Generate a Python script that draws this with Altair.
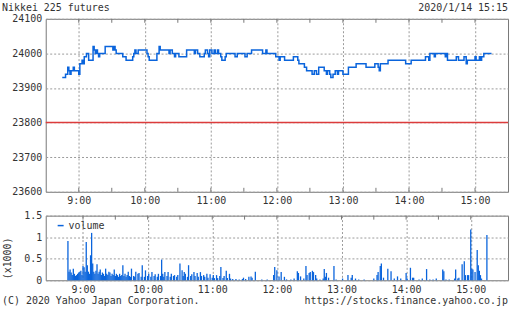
import altair as alt
import pandas as pd

# ---------------- data ----------------
title_left = "Nikkei 225 futures"
title_right = "2020/1/14 15:15"
footer_left = "(C) 2020 Yahoo Japan Corporation."
footer_right = "https://stocks.finance.yahoo.co.jp"
volume_label = "volume"
volume_unit = "(x1000)"

hour_labels = ["9:00", "10:00", "11:00", "12:00", "13:00", "14:00", "15:00"]
half_hour_ticks = ["9:00", "9:30", "10:00", "10:30", "11:00", "11:30", "12:00", "12:30",
                   "13:00", "13:30", "14:00", "14:30", "15:00"]
price_ticks = [23600, 23700, 23800, 23900, 24000, 24100]
volume_ticks = [0, 0.5, 1, 1.5]
base_price = [23800]

price_times = [
    "08:45", "08:48", "08:50", "08:51", "08:52", "08:53", "08:55", "08:56", "09:00", "09:01",
    "09:03", "09:04", "09:05", "09:07", "09:09", "09:13", "09:14", "09:15", "09:16", "09:17",
    "09:18", "09:19", "09:24", "09:31", "09:32", "09:33", "09:34", "09:40", "09:43", "09:49",
    "09:50", "09:51", "09:52", "09:54", "10:02", "10:03", "10:04", "10:11", "10:13", "10:14",
    "10:22", "10:23", "10:25", "10:27", "10:28", "10:31", "10:38", "10:45", "10:46", "10:48",
    "10:50", "10:54", "10:55", "10:57", "10:58", "10:59", "11:01", "11:03", "11:04", "11:06",
    "11:07", "11:09", "11:10", "11:13", "11:14", "11:22", "11:24", "11:31", "11:33", "11:37",
    "11:47", "11:50", "11:51", "11:59", "12:02", "12:03", "12:07", "12:15", "12:19", "12:20",
    "12:25", "12:27", "12:32", "12:34", "12:36", "12:38", "12:43", "12:45", "12:46", "12:48",
    "12:49", "12:51", "12:53", "12:55", "12:56", "13:00", "13:05", "13:12", "13:21", "13:29",
    "13:32", "13:33", "13:34", "13:41", "13:57", "14:02", "14:15", "14:18", "14:19", "14:23",
    "14:24", "14:33", "14:34", "14:35", "14:43", "14:45", "14:50", "14:52", "14:53", "15:00",
    "15:01", "15:04", "15:05", "15:06", "15:08", "15:15",
]
price_values = [
    23930, 23940, 23960, 23950, 23940, 23950, 23960, 23950, 23940, 23970,
    23980, 23970, 23990, 24000, 23980, 24020, 24010, 24000, 24010, 24000,
    23990, 24000, 24020, 24010, 24020, 24010, 24000, 23990, 23980, 23990,
    24000, 24010, 24000, 24010, 24000, 23990, 23980, 24000, 24020, 24010,
    24000, 24010, 24000, 23990, 24000, 23990, 24010, 24000, 24010, 24000,
    23990, 24000, 24010, 24000, 23990, 24010, 24000, 24010, 24000, 24010,
    24000, 23990, 23980, 23990, 24000, 23990, 24000, 23990, 24000, 24010,
    24000, 24010, 24000, 23990, 23980, 23990, 23980, 23990, 23980, 23970,
    23960, 23950, 23940, 23950, 23940, 23960, 23950, 23940, 23950, 23940,
    23930, 23940, 23950, 23940, 23950, 23940, 23960, 23970, 23960, 23970,
    23960, 23950, 23970, 23980, 23970, 23980, 23990, 23980, 24000, 23990,
    24000, 23990, 24000, 23980, 23990, 23980, 23990, 23970, 23980, 23990,
    23980, 23990, 23980, 23990, 24000, 24000,
]

volume_times = [
    "08:46", "08:47", "08:48", "08:49", "08:50", "08:51", "08:52", "08:53", "08:54", "08:55",
    "08:56", "08:57", "08:58", "08:59", "09:00", "09:01", "09:02", "09:03", "09:04", "09:05",
    "09:06", "09:07", "09:08", "09:09", "09:10", "09:11", "09:12", "09:13", "09:14", "09:15",
    "09:16", "09:17", "09:18", "09:19", "09:20", "09:21", "09:22", "09:23", "09:24", "09:25",
    "09:26", "09:27", "09:28", "09:29", "09:30", "09:31", "09:32", "09:33", "09:34", "09:35",
    "09:36", "09:37", "09:38", "09:39", "09:40", "09:41", "09:42", "09:43", "09:44", "09:45",
    "09:47", "09:48", "09:49", "09:51", "09:52", "09:54", "09:55", "09:57", "09:58", "10:00",
    "10:01", "10:03", "10:04", "10:06", "10:07", "10:09", "10:10", "10:12", "10:13", "10:14",
    "10:15", "10:16", "10:18", "10:19", "10:21", "10:22", "10:24", "10:25", "10:27", "10:28",
    "10:30", "10:32", "10:33", "10:34", "10:35", "10:37", "10:38", "10:40", "10:41", "10:43",
    "10:44", "10:46", "10:47", "10:49", "10:50", "10:52", "10:53", "10:55", "10:56", "10:58",
    "11:00", "11:01", "11:02", "11:04", "11:05", "11:07", "11:08", "11:10", "11:11", "11:13",
    "11:14", "11:16", "11:17", "11:19", "11:22", "11:25", "11:28", "11:29", "11:31", "11:34",
    "11:36", "11:37", "11:40", "11:46", "11:51", "11:57", "11:58", "12:00", "12:02", "12:04",
    "12:07", "12:09", "12:13", "12:16", "12:19", "12:20", "12:22", "12:25", "12:27", "12:28",
    "12:30", "12:31", "12:33", "12:34", "12:36", "12:37", "12:40", "12:43", "12:44", "12:45",
    "12:46", "12:48", "12:53", "12:55", "13:01", "13:06", "13:09", "13:10", "13:13", "13:16",
    "13:21", "13:30", "13:33", "13:34", "13:36", "13:37", "13:39", "13:43", "13:46", "13:49",
    "13:52", "13:55", "14:00", "14:01", "14:04", "14:06", "14:07", "14:12", "14:15", "14:19",
    "14:22", "14:25", "14:28", "14:34", "14:35", "14:37", "14:40", "14:45", "14:46", "14:48",
    "14:49", "14:52", "14:54", "14:55", "14:57", "14:58", "15:00", "15:01", "15:02", "15:04",
    "15:06", "15:07", "15:08", "15:09", "15:10", "15:15",
]
volume_values = [
    0.91, 0.20, 0.25, 0.18, 0.12, 0.27, 0.15, 0.10, 0.12, 0.15,
    0.18, 0.20, 0.22, 0.12, 0.33, 0.30, 0.20, 0.89, 0.35, 0.20,
    0.15, 0.58, 1.10, 0.39, 0.20, 0.15, 0.22, 0.37, 0.15, 0.20,
    0.25, 0.12, 0.18, 0.15, 0.10, 0.27, 0.15, 0.12, 0.20, 0.18,
    0.10, 0.15, 0.12, 0.25, 0.10, 0.15, 0.12, 0.08, 0.15, 0.10,
    0.12, 0.35, 0.10, 0.15, 0.08, 0.12, 0.20, 0.10, 0.08, 0.27,
    0.10, 0.08, 0.20, 0.15, 0.17, 0.08, 0.35, 0.08, 0.23, 0.10,
    0.15, 0.08, 0.19, 0.10, 0.14, 0.08, 0.15, 0.10, 0.48, 0.15,
    0.08, 0.19, 0.10, 0.19, 0.08, 0.15, 0.10, 0.12, 0.08, 0.12,
    0.39, 0.23, 0.10, 0.19, 0.15, 0.08, 0.35, 0.10, 0.14, 0.19,
    0.10, 0.17, 0.08, 0.19, 0.10, 0.12, 0.08, 0.15, 0.06, 0.14,
    0.06, 0.12, 0.05, 0.12, 0.05, 0.10, 0.31, 0.05, 0.10, 0.22,
    0.05, 0.15, 0.04, 0.03, 0.03, 0.02, 0.03, 0.06, 0.03, 0.08,
    0.09, 0.06, 0.20, 0.02, 0.02, 0.12, 0.31, 0.23, 0.09, 0.19,
    0.08, 0.02, 0.02, 0.04, 0.21, 0.17, 0.09, 0.04, 0.33, 0.12,
    0.17, 0.19, 0.22, 0.19, 0.12, 0.04, 0.02, 0.04, 0.26, 0.08,
    0.17, 0.06, 0.33, 0.02, 0.04, 0.12, 0.06, 0.12, 0.04, 0.02,
    0.02, 0.04, 0.12, 0.19, 0.33, 0.39, 0.06, 0.27, 0.21, 0.04,
    0.09, 0.04, 0.17, 0.04, 0.29, 0.06, 0.06, 0.02, 0.04, 0.26,
    0.02, 0.02, 0.04, 0.25, 0.21, 0.02, 0.02, 0.04, 0.25, 0.04,
    0.06, 0.37, 0.44, 0.12, 0.12, 0.12, 1.18, 0.27, 0.25, 0.19,
    0.70, 0.35, 0.22, 0.12, 0.04, 1.05,
]

# ---------------- helpers ----------------
def to_min(s):
    h, m = s.split(":")
    return int(h) * 60 + int(m)

price_df = pd.DataFrame({"m": [to_min(t) for t in price_times], "p": price_values})
vol_df = pd.DataFrame({"m": [to_min(t) for t in volume_times], "v": volume_values})
tick_df = pd.DataFrame({"m": [to_min(t) for t in half_hour_ticks]})
base_df = pd.DataFrame({"p": base_price})
hour_values = [to_min(t) for t in hour_labels]

FONT = "DejaVu Sans Mono"
BLUE = "#0a64dc"
RED = "#dc3c3c"
GRID = "#9a9a9a"
FRAME = "#777777"
TXT = "#333333"
W = 465
H1 = 174
H2 = 65

xs = alt.Scale(domain=[510, 930], nice=False, zero=False)
xa = alt.Axis(values=hour_values, labelExpr="floor(datum.value/60) + ':00'", grid=True,
              gridColor=GRID, gridDash=[2, 2], ticks=False, domain=False, title=None,
              labelPadding=4, labelFont=FONT, labelFontSize=10, labelColor=TXT, labelFlush=False)

ys = alt.Scale(domain=[23600, 24100], nice=False, zero=False)
ya = alt.Axis(values=price_ticks, grid=True, gridColor=GRID, gridDash=[2, 2], ticks=False,
              domain=False, title=None, labelPadding=4, labelFont=FONT, labelFontSize=10,
              labelColor=TXT, format="d")

vs = alt.Scale(domain=[0, 1.5], nice=False)
va = alt.Axis(values=volume_ticks, grid=True, gridColor=GRID, gridDash=[2, 2], ticks=False,
              domain=False, title=None, labelPadding=4, labelFont=FONT, labelFontSize=10,
              labelColor=TXT, format="~g")


def text_layer(label, x, y, align="left", angle=0):
    return alt.Chart(alt.Data(values=[{"t": label}])).mark_text(
        align=align, baseline="middle", font=FONT, fontSize=10, color=TXT, angle=angle
    ).encode(x=alt.value(x), y=alt.value(y), text="t:N")


# ---------------- top panel ----------------
line = alt.Chart(price_df).mark_line(interpolate="step-after", color=BLUE, strokeWidth=1.5).encode(
    x=alt.X("m:Q", scale=xs, axis=xa), y=alt.Y("p:Q", scale=ys, axis=ya)
)
red = alt.Chart(base_df).mark_rule(color=RED, strokeWidth=1.5).encode(
    y=alt.Y("p:Q", scale=ys, axis=ya)
)
ticks_t = alt.Chart(tick_df).mark_rule(color=FRAME).encode(
    x=alt.X("m:Q", scale=xs, axis=xa), y=alt.value(0), y2=alt.value(4)
)
ticks_b = alt.Chart(tick_df).mark_rule(color=FRAME).encode(
    x=alt.X("m:Q", scale=xs, axis=xa), y=alt.value(H1 - 4), y2=alt.value(H1)
)
top = alt.layer(
    red, line, ticks_t, ticks_b,
    text_layer(title_left, -44, -11),
    text_layer(title_right, W, -11, align="right"),
).properties(width=W, height=H1)

# ---------------- bottom panel ----------------
bars = alt.Chart(vol_df).mark_bar(width=1.3, color=BLUE).encode(
    x=alt.X("m:Q", scale=xs, axis=xa), y=alt.Y("v:Q", scale=vs, axis=va)
)
ticks_t2 = alt.Chart(tick_df).mark_rule(color=FRAME).encode(
    x=alt.X("m:Q", scale=xs, axis=xa), y=alt.value(0), y2=alt.value(4)
)
legend_line = alt.Chart(alt.Data(values=[{"t": volume_label}])).mark_rule(
    color=BLUE, strokeWidth=1.5
).encode(x=alt.value(12), x2=alt.value(18), y=alt.value(10))
bottom = alt.layer(
    bars, ticks_t2, legend_line,
    text_layer(volume_label, 23, 10),
    text_layer(volume_unit, -38, 43, align="center", angle=270),
    text_layer(footer_left, -44, 86),
    text_layer(footer_right, W, 86, align="right"),
).properties(width=W, height=H2)

chart = alt.vconcat(top, bottom, spacing=24, bounds="flush").properties(
    padding={"left": 1, "top": 1, "right": 2, "bottom": 4},
    background="white",
).configure_view(stroke=FRAME, strokeWidth=1)

chart.save("out.html", embed_options={"renderer": "svg", "actions": False})
